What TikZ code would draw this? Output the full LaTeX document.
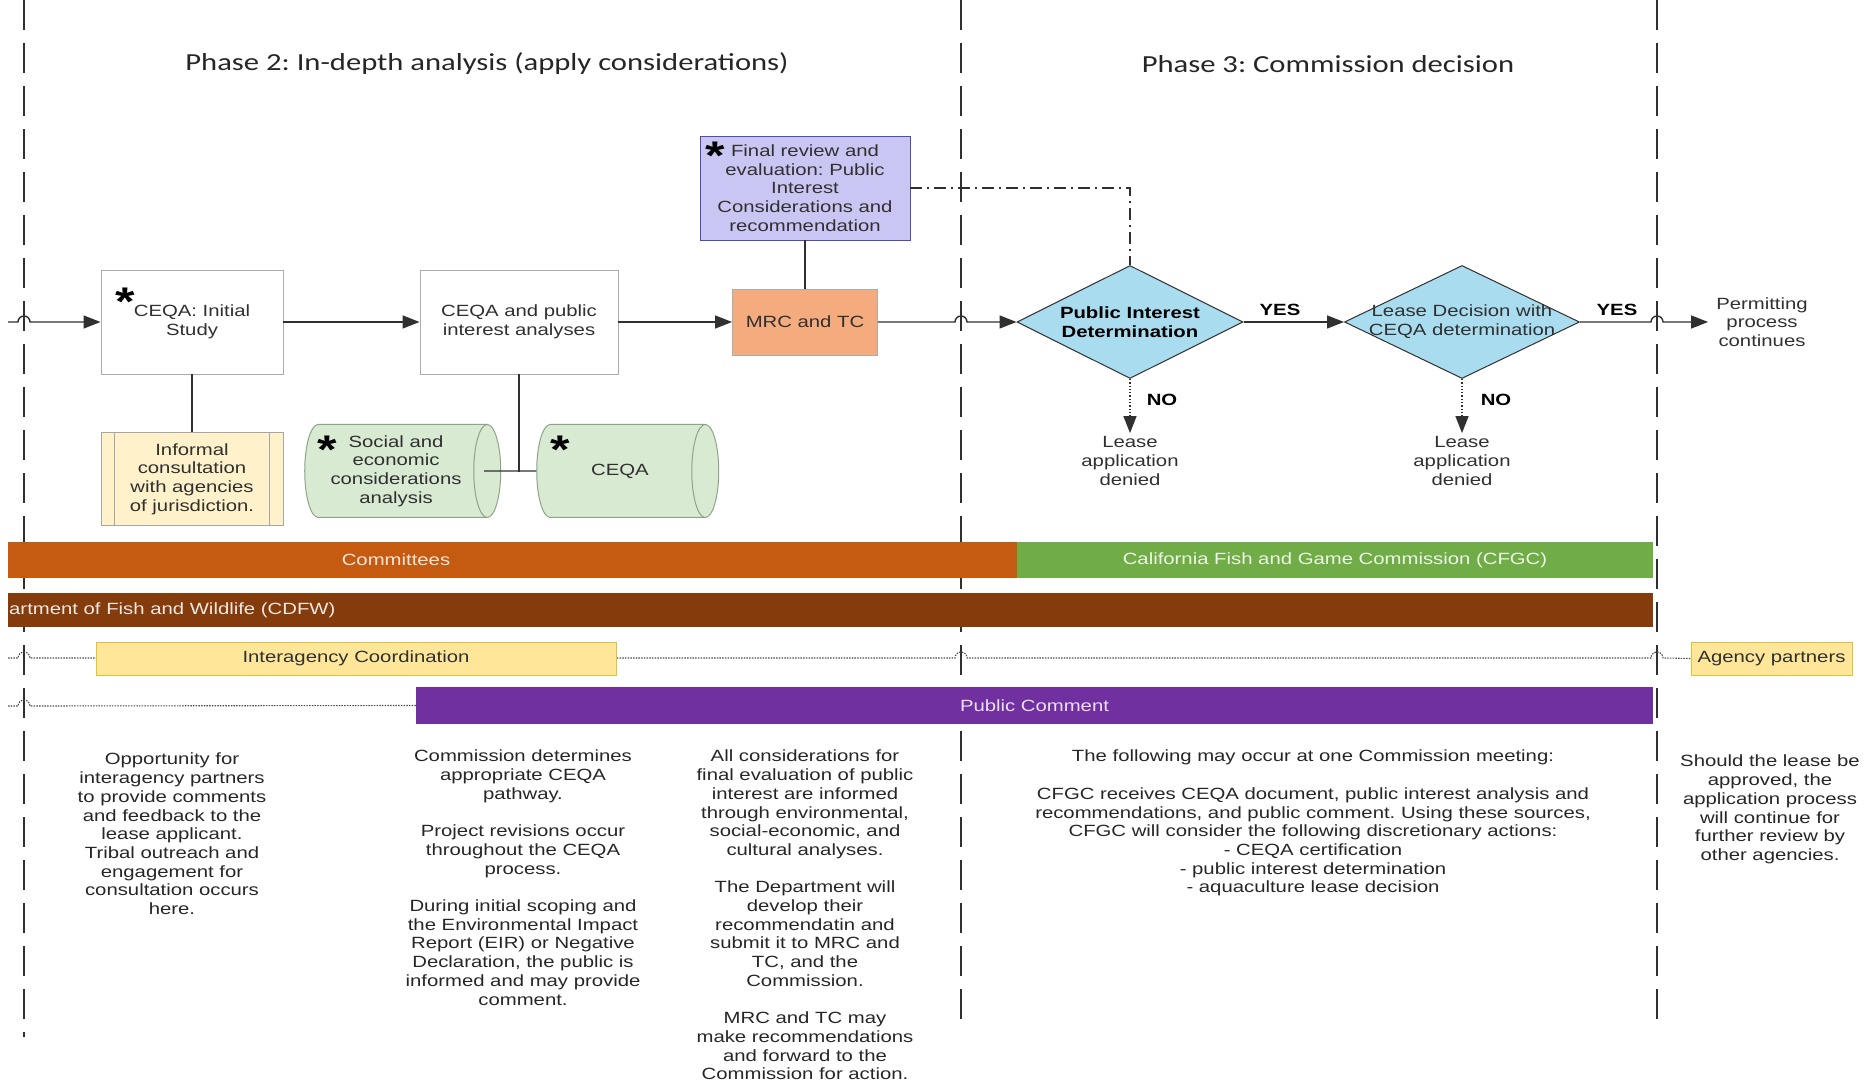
\documentclass[tikz,border=0pt]{standalone}
\usepackage{fontspec}
\setmainfont{Liberation Sans}[FakeStretch=1.25]
\newfontfamily\phasefont{Carlito}[FakeStretch=1.25]
\usetikzlibrary{shapes.geometric, arrows.meta, positioning, backgrounds}

\newcommand{\bodyfont}{\fontsize{16.25}{18.7}\selectfont\frenchspacing}

\definecolor{cmteorange}{HTML}{C55A11}
\definecolor{cfgcgreen}{HTML}{70AD47}
\definecolor{cdfwbrown}{HTML}{843C0C}
\definecolor{iacyellow}{HTML}{FFE699}
\definecolor{pubpurple}{HTML}{7030A0}
\definecolor{mrcsalmon}{HTML}{F4AC7E}
\definecolor{reviewlav}{HTML}{CAC6F4}
\definecolor{decblue}{HTML}{A9DCEF}
\definecolor{anagreen}{HTML}{D9EAD3}
\definecolor{anaborder}{HTML}{8FA38A}
\definecolor{infcream}{HTML}{FFF1CA}
\definecolor{inkgray}{HTML}{303030}

\tikzset{
  divider/.style={draw=inkgray, line width=1.5pt, dash pattern=on 30pt off 13pt},
  phasetitle/.style={font=\phasefont\fontsize{24.5}{28}\selectfont\frenchspacing, text=black!85},
  procbox/.style={draw=gray!65, fill=white, line width=0.9pt, minimum width=#1, minimum height=104pt, align=center, inner sep=2pt},
  mrcbox/.style={draw=gray!65, fill=mrcsalmon, line width=0.9pt, minimum width=145pt, minimum height=66pt},
  reviewbox/.style={draw=gray!60!blue, fill=reviewlav, line width=0.9pt, minimum width=210pt, minimum height=104pt, align=center, inner sep=1pt},
  decision/.style={diamond, draw=inkgray, fill=decblue, line width=1pt, minimum height=113pt, inner sep=0pt},
  analysis/.style={cylinder, shape aspect=0.29, draw=anaborder, fill=anagreen, line width=1pt, minimum height=#1, inner xsep=0pt, inner ysep=46.5pt},
  infbox/.style={draw=gray!70, fill=infcream, line width=0.9pt, minimum width=182pt, minimum height=93pt, align=center, inner sep=1pt},
  band/.style={minimum height=36pt, inner sep=0pt},
  iacbox/.style={draw=yellow!50!brown, fill=iacyellow, line width=0.9pt, minimum height=33pt, inner sep=0pt},
  asterisk/.style={font=\fontsize{40}{40}\selectfont\bfseries, inner sep=0pt, anchor=north, text=black},
  note/.style={align=center, inner sep=0pt, anchor=north, text=black!85},
  flow/.style={draw=inkgray, line width=1.4pt},
  linkdash/.style={draw=inkgray, line width=1.2pt, dash pattern=on 12pt off 5pt on 2pt off 5pt},
  nopath/.style={draw=inkgray, line width=1.3pt, dotted},
  coordline/.style={draw=black!70, line width=1.1pt, dash pattern=on 1.5pt off 1.2pt}
}

\begin{document}
\begin{tikzpicture}[x=1pt, y=1pt, >={Triangle[length=17pt, width=13pt]}, font=\bodyfont, text=inkgray]
\useasboundingbox (0,0) rectangle (1864,1088);

% phase titles
\node[phasetitle] (ph2) at (487,1024) {Phase 2: In-depth analysis (apply considerations)};
\node[phasetitle] (ph3) at (1328,1024) {Phase 3: Commission decision};

% process steps
\node[procbox=182pt] (initial) at (192,766) {CEQA: Initial\\Study};
\node[procbox=198pt] (analyses) at (519,766) {CEQA and public\\interest analyses};
\node[mrcbox] (mrc) at (805,766) {MRC and TC};
\node[reviewbox] (review) at (805,900) {Final review and\\evaluation: Public\\Interest\\Considerations and\\recommendation};
\node[infbox] (informal) at (192,609) {Informal\\consultation\\with agencies\\of jurisdiction.};
\draw[gray!70, line width=0.9pt] ([xshift=14pt]informal.north west) -- ([xshift=14pt]informal.south west);
\draw[gray!70, line width=0.9pt] ([xshift=-14pt]informal.north east) -- ([xshift=-14pt]informal.south east);
\node[analysis=196pt] (social) at (389,617) {};
\node[align=center] (socialtxt) at (396,617) {Social and\\economic\\considerations\\analysis};
\node[analysis=182pt] (ceqa) at (614,617) {};
\node (ceqatxt) at (620,617) {CEQA};

\node[asterisk] (astinit) at (125,800) {*};
\node[asterisk] (astrev) at (715,946) {*};
\node[asterisk] (astsoc) at (327,652) {*};
\node[asterisk] (astceqa) at (560,652) {*};

% decisions
\node[decision, minimum width=226pt] (pid) at (1130,766) {};
\node[align=center, font=\bodyfont\bfseries, text=black] (pidtxt) at (pid) {Public Interest\\Determination};
\node[decision, minimum width=235pt] (lease) at (1462,766) {};
\node[align=center] (leasetxt) at (lease) {Lease Decision with\\CEQA determination};
\node[align=center, inner xsep=8pt] (permit) at (1762,766) {Permitting\\process\\continues};
\node[align=center] (denied1) at (1130,627) {Lease\\application\\denied};
\node[align=center] (denied2) at (1462,627) {Lease\\application\\denied};
\node[font=\bodyfont\bfseries, text=black] (yes1) at (1280,778) {YES};
\node[font=\bodyfont\bfseries, text=black] (yes2) at (1617,778) {YES};
\node[font=\bodyfont\bfseries, text=black] (no1) at (1162,688) {NO};
\node[font=\bodyfont\bfseries, text=black] (no2) at (1496,688) {NO};

% connectors
\coordinate (entry) at (8,766);
\coordinate (tjoint) at (519,616);
\draw[flow, ->] (entry) -- (18,766) arc[start angle=180, end angle=0, radius=6] -- (initial.west);
\draw[flow, ->] (initial) -- (analyses);
\draw[flow, ->] (analyses) -- (mrc);
\draw[flow, ->] (mrc.east) -- (955,766) arc[start angle=180, end angle=0, radius=6] -- (pid.west);
\draw[flow, ->] (pid.east) -- (lease.west);
\draw[flow, ->] (lease.east) -- (1651,766) arc[start angle=180, end angle=0, radius=6] -- (permit.west);
\draw[flow] (review) -- (mrc);
\draw[flow] (initial) -- (informal);
\draw[flow] (analyses.south) -- (tjoint);
\draw[flow] ([xshift=-17pt]social.east) -- (ceqa.west);
\draw[linkdash] (review.east) -| (pid.north);
\draw[nopath, ->] (pid.south) -- (denied1.north);
\draw[nopath, ->] (lease.south) -- (denied2.north);

% swim lanes
\node[band, fill=cmteorange, minimum width=1009pt] (cmte) at (512.5,528) {};
\node[text=white!85!cmteorange] (cmtetxt) at (396,528) {Committees};
\node[band, fill=cfgcgreen, minimum width=636pt, text=white!88!cfgcgreen] (cfgc) at (1335,528) {California Fish and Game Commission (CFGC)};
\node[band, fill=cdfwbrown, minimum width=1645pt, minimum height=34pt] (cdfw) at (830.5,478) {};
\node[anchor=west, inner sep=0pt, text=white!88!cdfwbrown] (cdfwtxt) at (9,478) {artment of Fish and Wildlife (CDFW)};
\node[iacbox, minimum width=520pt] (iac) at (356,429.5) {Interagency Coordination};
\node[iacbox, minimum width=161pt] (partners) at (1771.5,429.5) {Agency partners};
\node[band, fill=pubpurple, minimum width=1237pt, minimum height=37pt, text=white!85!pubpurple] (pubc) at (1034.5,382.5) {Public Comment};

\begin{scope}[on background layer]
  \foreach \x/\yend in {24/51, 961/59, 1657/59}
    \draw[divider] (\x,1088) -- (\x,\yend);
  \coordinate (iacstart) at (8,430);
  \coordinate (pubstart) at (8,382);
  \draw[coordline] (iacstart) -- (18,430) arc[start angle=180, end angle=0, radius=6]
    -- (955,430) arc[start angle=180, end angle=0, radius=6]
    -- (1651,430) arc[start angle=180, end angle=0, radius=6] -- (partners.west);
  \draw[coordline] (pubstart) -- (18,382) arc[start angle=180, end angle=0, radius=6] -- (pubc.west);
\end{scope}

% notes
\node[note] (note1) at (172,335) {Opportunity for\\interagency partners\\to provide comments\\and feedback to the\\lease applicant.\\Tribal outreach and\\engagement for\\consultation occurs\\here.};
\node[note] (note2) at (523,338) {Commission determines\\appropriate CEQA\\pathway.\\[18.7pt]Project revisions occur\\throughout the CEQA\\process.\\[18.7pt]During initial scoping and\\the Environmental Impact\\Report (EIR) or Negative\\Declaration, the public is\\informed and may provide\\comment.};
\node[note] (note3) at (805,338) {All considerations for\\final evaluation of public\\interest are informed\\through environmental,\\social-economic, and\\cultural analyses.\\[18.7pt]The Department will\\develop their\\recommendatin and\\submit it to MRC and\\TC, and the\\Commission.\\[18.7pt]MRC and TC may\\make recommendations\\and forward to the\\Commission for action.};
\node[note] (note4) at (1313,338) {The following may occur at one Commission meeting:\\[18.7pt]CFGC receives CEQA document, public interest analysis and\\recommendations, and public comment. Using these sources,\\CFGC will consider the following discretionary actions:\\- CEQA certification\\- public interest determination\\- aquaculture lease decision};
\node[note] (note5) at (1770,333) {Should the lease be\\approved, the\\application process\\will continue for\\further review by\\other agencies.};
\end{tikzpicture}
\end{document}
